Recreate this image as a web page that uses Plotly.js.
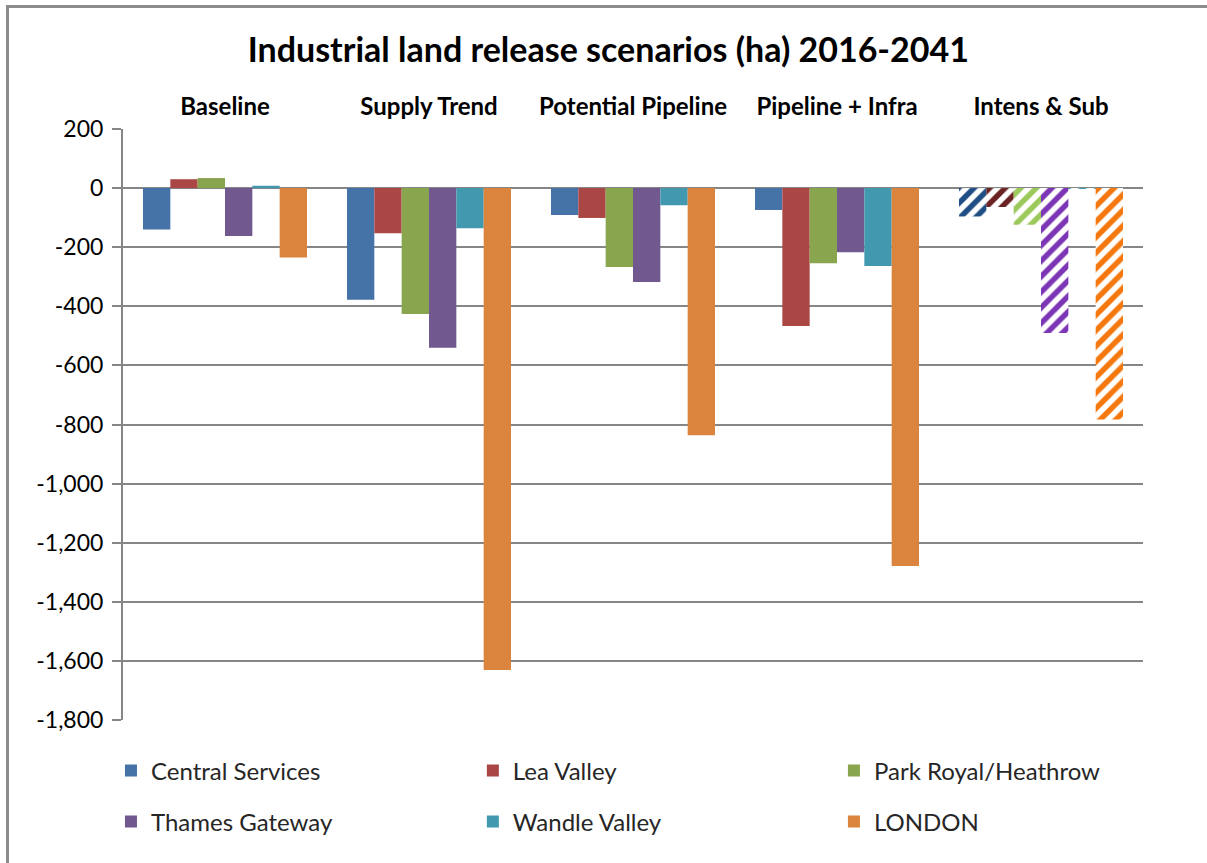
<!DOCTYPE html>
<html>
<head>
<meta charset="utf-8">
<script src="https://cdn.plot.ly/plotly-3.0.1.min.js"></script>
<style>
  html, body { margin: 0; padding: 0; background: #ffffff; }
  #wrap { position: relative; width: 1207px; height: 863px; overflow: hidden; }
  #chart { width: 1207px; height: 863px; }
  #frame { position: absolute; left: 6px; top: 5px; width: 1300px; height: 1000px;
           border-left: 3px solid #8c8c8c; border-top: 3px solid #8c8c8c; pointer-events: none; }
</style>
</head>
<body>
<div id="wrap">
  <div id="chart"></div>
  <div id="frame"></div>
</div>
<script>
// ---- data ----
const categories = ['Baseline', 'Supply Trend', 'Potential Pipeline', 'Pipeline + Infra', 'Intens & Sub'];
const seriesNames = ['Central Services', 'Lea Valley', 'Park Royal/Heathrow', 'Thames Gateway', 'Wandle Valley', 'LONDON'];
const centralServices = [-140, -378, -91, -74, -96];
const leaValley = [30, -153, -101, -467, -64];
const parkRoyal = [34, -426, -267, -254, -124];
const thamesGateway = [-162, -540, -318, -217, -490];
const wandleValley = [8, -136, -58, -264, -3];
const london = [-235, -1631, -836, -1279, -783];
const tickValues = [200, 0, -200, -400, -600, -800, -1000, -1200, -1400, -1600, -1800];
const tickLabels = ['200', '0', '-200', '-400', '-600', '-800', '-1,000', '-1,200', '-1,400', '-1,600', '-1,800'];
const hatchedCategory = 'Intens & Sub';

// ---- styles ----
const solidColors = ['#4572A7', '#AA4643', '#89A54E', '#71588F', '#4198AF', '#DB843D'];
const hatchColors = ['#1F4E85', '#6B2222', '#9CC95C', '#7B35B5', '#4198AF', '#F5780F'];
const allValues = [centralServices, leaValley, parkRoyal, thamesGateway, wandleValley, london];
const FONT = 'Lato, "Open Sans", sans-serif';
const legendNames = ['legend', 'legend2', 'legend3', 'legend4', 'legend5', 'legend6'];

const traces = [];
allValues.forEach((vals, i) => {
  const solidX = [], solidY = [], hatchX = [], hatchY = [];
  categories.forEach((c, k) => {
    if (c === hatchedCategory) { hatchX.push(c); hatchY.push(vals[k]); }
    else { solidX.push(c); solidY.push(vals[k]); }
  });
  traces.push({
    type: 'bar',
    name: seriesNames[i],
    x: solidX,
    y: solidY,
    offsetgroup: 'g' + i,
    legend: legendNames[i],
    marker: { color: solidColors[i], line: { width: 0 } },
    hoverinfo: 'x+y+name'
  });
  traces.push({
    type: 'bar',
    name: seriesNames[i],
    x: hatchX,
    y: hatchY,
    offsetgroup: 'g' + i,
    showlegend: false,
    marker: {
      color: hatchColors[i],
      line: { width: 0 },
      pattern: {
        shape: '/',
        fgcolor: '#ffffff',
        bgcolor: hatchColors[i],
        size: 11,
        solidity: 0.5,
        fillmode: 'replace'
      }
    },
    hoverinfo: 'x+y+name'
  });
});

const legendBase = {
  orientation: 'h',
  font: { family: FONT, size: 24, color: '#262626' },
  bgcolor: 'rgba(0,0,0,0)',
  borderwidth: 0,
  xanchor: 'left',
  yanchor: 'middle'
};
// legend positions (paper fractions): 3 columns x 2 rows
const legendX = [-0.0118, 0.343, 0.697, -0.0118, 0.343, 0.697];
const legendY = [-0.0863, -0.0863, -0.0863, -0.1726, -0.1726, -0.1726];

const layout = {
  width: 1207,
  height: 863,
  paper_bgcolor: '#ffffff',
  plot_bgcolor: '#ffffff',
  margin: { l: 123, r: 64, t: 129, b: 143 },
  font: { family: FONT, color: '#000000' },
  title: {
    text: 'Industrial land release scenarios (ha) 2016-2041',
    font: { family: FONT, size: 34, weight: 'bold', color: '#000000' },
    xref: 'container', x: 0.504, xanchor: 'center',
    yref: 'container', y: 1 - 50 / 863, yanchor: 'middle'
  },
  barmode: 'group',
  bargap: 0.196,
  bargroupgap: 0,
  xaxis: {
    side: 'top',
    type: 'category',
    categoryorder: 'array',
    categoryarray: categories,
    showline: false,
    showgrid: false,
    ticks: '',
    ticklabelstandoff: 8,
    tickfont: { family: FONT, size: 24, weight: 'bold', color: '#000000' },
    fixedrange: true
  },
  yaxis: {
    range: [-1800, 200],
    tickvals: tickValues,
    ticktext: tickLabels,
    showgrid: true,
    gridcolor: '#868686',
    gridwidth: 2,
    zeroline: false,
    showline: true,
    linecolor: '#868686',
    linewidth: 2,
    ticks: 'outside',
    ticklen: 9,
    tickwidth: 2,
    tickcolor: '#868686',
    ticklabelstandoff: 4,
    tickfont: { family: FONT, size: 23, color: '#000000' },
    automargin: false,
    fixedrange: true
  },
  showlegend: true
};
legendNames.forEach((ln, i) => {
  layout[ln] = Object.assign({}, legendBase, { x: legendX[i], y: legendY[i] });
});

Plotly.newPlot('chart', traces, layout, { displayModeBar: false, responsive: false });
</script>
</body>
</html>
